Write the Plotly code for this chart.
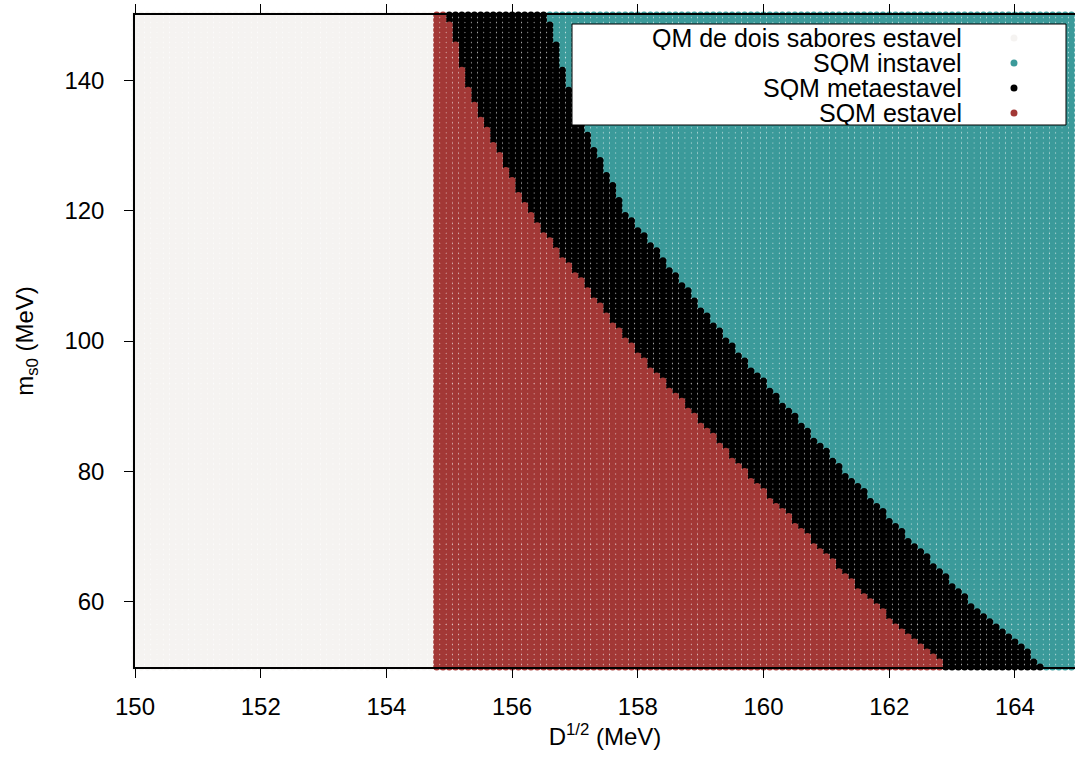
import numpy as np
import plotly.graph_objects as go

# Parameter scan: D^{1/2} and m_s0 (MeV)
D_values = np.round(np.arange(150.0, 164.95, 0.1), 2)
m_values = np.round(np.linspace(50.0, 150.0, 131), 3)

# Stability boundaries of the scan
qm_edge = 154.75                                     # two-flavour QM stable below this D^{1/2}
edge_m = [50, 60, 80, 100, 120, 137, 150]            # m_s0 rows where the edges are sampled
stable_edge_D = [162.89, 161.73, 159.71, 157.84, 156.24, 155.36, 154.96]   # SQM stable / metastable
meta_edge_D = [164.48, 163.29, 161.30, 159.44, 157.80, 156.95, 156.57]     # SQM metastable / unstable

labels = ["QM de dois sabores estavel", "SQM instavel", "SQM metaestavel", "SQM estavel"]
colors = ["#f5f3f1", "#3b9a9a", "#000000", "#a23836"]

DD, MM = np.meshgrid(D_values, m_values)
stable_edge = np.interp(MM, edge_m, stable_edge_D)
meta_edge = np.interp(MM, edge_m, meta_edge_D)
region = np.where(DD < qm_edge, 0,
                  np.where(DD < stable_edge, 3,
                           np.where(DD < meta_edge, 2, 1)))

FONT = "Liberation Sans, Arial, sans-serif"
fig = go.Figure()
for k in range(4):
    sel = region == k
    fig.add_trace(go.Scatter(
        x=DD[sel], y=MM[sel], mode="markers",
        marker=dict(size=7, color=colors[k], line=dict(width=0)),
        name=labels[k], showlegend=False, cliponaxis=False, hoverinfo="skip"))

# plot-area geometry in pixels
L, R, T, B = 135, 1075, 15, 667
def px(x):
    return (x - L) / (R - L)
def py(y):
    return (B - y) / (B - T)

shapes = [dict(type="rect", xref="paper", yref="paper",
               x0=px(572), x1=px(1066), y0=py(125), y1=py(24),
               fillcolor="white", line=dict(color="black", width=1), layer="above")]
annotations = []
row_y = [38, 63, 88, 113]
for k in range(4):
    annotations.append(dict(xref="paper", yref="paper", x=px(964), y=py(row_y[k]),
                            text=labels[k], showarrow=False, xanchor="right", yanchor="middle",
                            height=24, valign="middle",
                            font=dict(family=FONT, size=25, color="black")))
    shapes.append(dict(type="circle", xref="paper", yref="paper",
                       x0=px(1014 - 3.5), x1=px(1014 + 3.5),
                       y0=py(row_y[k] + 3.5), y1=py(row_y[k] - 3.5),
                       fillcolor=colors[k], line=dict(width=0), layer="above"))

axis_common = dict(showline=True, linecolor="black", linewidth=1.5, mirror="ticks",
                   ticks="outside", ticklen=9, tickcolor="black", tickwidth=1,
                   showgrid=False, zeroline=False, automargin=False,
                   tickfont=dict(family=FONT, size=24, color="black"))

fig.update_layout(
    width=1075, height=757,
    margin=dict(l=L, r=1075 - R, t=T, b=757 - B, autoexpand=False),
    paper_bgcolor="white", plot_bgcolor="white", showlegend=False,
    xaxis=dict(range=[150, 150 + (R - L) / 62.85], tick0=150, dtick=2,
               ticklabelstandoff=8,
               title=dict(text="D<sup>1/2</sup> (MeV)", standoff=10,
                          font=dict(family=FONT, size=24, color="black")),
               **axis_common),
    yaxis=dict(range=[50, 150], tick0=0, dtick=20, ticklabelstandoff=15,
               title=dict(text="m<sub>s0</sub> (MeV)", standoff=24,
                          font=dict(family=FONT, size=24, color="black")),
               **axis_common),
    shapes=shapes, annotations=annotations,
)

fig.write_html("out.html")
